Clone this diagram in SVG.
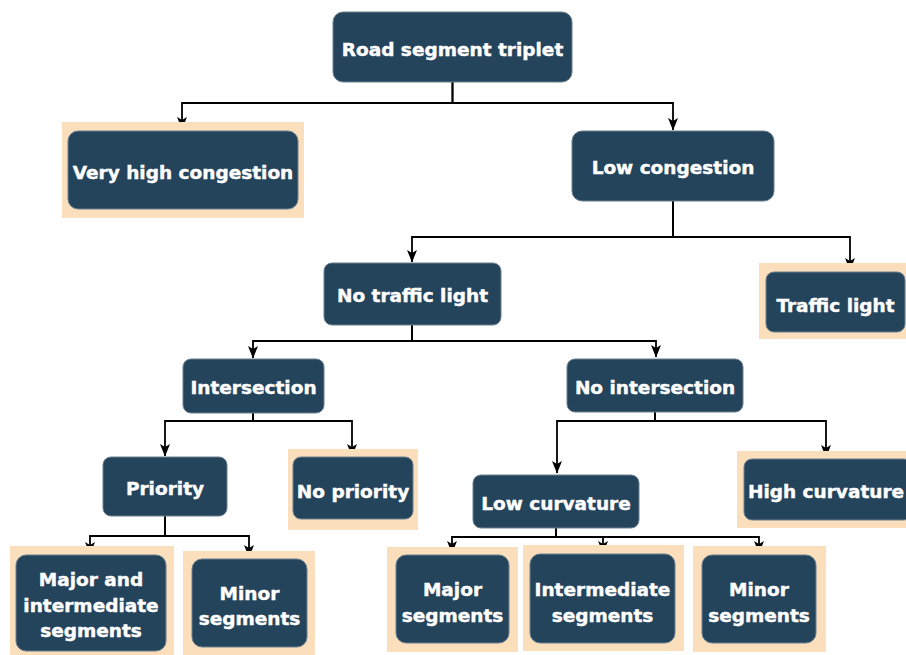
<svg xmlns="http://www.w3.org/2000/svg" width="906" height="655" viewBox="0 0 906 655">
<defs>
<style>
.bg{fill:#FBDFBD;}
.box{fill:#24445C;stroke:#6B7F8F;stroke-width:1;}
.t{fill:#FFFFFF;stroke:#FFFFFF;stroke-width:0.45;font-family:"DejaVu Sans",Verdana,sans-serif;font-weight:bold;font-size:18.5px;text-anchor:middle;}
.c{fill:none;stroke:#000;stroke-width:1.8;marker-end:url(#arr);}
</style>
<marker id="arr" markerUnits="userSpaceOnUse" markerWidth="13" markerHeight="11" viewBox="0 0 13 11" refX="12" refY="5.5" orient="auto">
<path d="M0,0.5 L12.5,5.5 L0,10.5 L3,5.5 z" fill="#000"/>
</marker>
</defs>
<rect width="906" height="655" fill="#FFFFFF"/>
<g id="connectors">
<path class="c" d="M452.5 82V103H182V129"/>
<path class="c" d="M452.5 82V103H673V130"/>
<path class="c" d="M673 201V237H412V262"/>
<path class="c" d="M673 201V237H850V270"/>
<path class="c" d="M412 325V341H253V358"/>
<path class="c" d="M412 325V341H656V357"/>
<path class="c" d="M253 413V421H165V456"/>
<path class="c" d="M253 413V421H352V456"/>
<path class="c" d="M655 412V421H557V473"/>
<path class="c" d="M655 412V421H826V457"/>
<path class="c" d="M165 516V536H90V554"/>
<path class="c" d="M165 516V536H249V557"/>
<path class="c" d="M556 528V537H452V553"/>
<path class="c" d="M556 528V537H603V553"/>
<path class="c" d="M556 528V537H759V553"/>
</g>
<g id="n-root">
<rect class="box" x="333" y="12" width="239" height="70" rx="10"/>
<text class="t" x="452.5" y="56">Road segment triplet</text>
</g>
<g id="n-veryhigh">
<rect class="bg" x="62" y="122" width="242" height="96"/>
<rect class="box" x="68" y="131" width="230" height="78" rx="10"/>
<text class="t" x="183" y="179">Very high congestion</text>
</g>
<g id="n-lowcong">
<rect class="box" x="572" y="131" width="202" height="70" rx="10"/>
<text class="t" x="673" y="174">Low congestion</text>
</g>
<g id="n-notraffic">
<rect class="box" x="324" y="263" width="177" height="62" rx="8"/>
<text class="t" x="412.5" y="302">No traffic light</text>
</g>
<g id="n-traffic">
<rect class="bg" x="759" y="263" width="147" height="76"/>
<rect class="box" x="766" y="272" width="139" height="60" rx="8"/>
<text class="t" x="835.5" y="312">Traffic light</text>
</g>
<g id="n-intersection">
<rect class="box" x="183" y="359" width="141" height="54" rx="8"/>
<text class="t" x="253.5" y="394">Intersection</text>
</g>
<g id="n-nointersection">
<rect class="box" x="567" y="359" width="176" height="53" rx="8"/>
<text class="t" x="655" y="394">No intersection</text>
</g>
<g id="n-priority">
<rect class="box" x="103" y="457" width="124" height="59" rx="8"/>
<text class="t" x="165" y="495">Priority</text>
</g>
<g id="n-nopriority">
<rect class="bg" x="288" y="449" width="130" height="81"/>
<rect class="box" x="293" y="457" width="120" height="62" rx="8"/>
<text class="t" x="353" y="498">No priority</text>
</g>
<g id="n-lowcurv">
<rect class="box" x="473" y="475" width="166" height="53" rx="8"/>
<text class="t" x="556" y="510">Low curvature</text>
</g>
<g id="n-highcurv">
<rect class="bg" x="737" y="451" width="175" height="77"/>
<rect class="box" x="744" y="459" width="168" height="61" rx="8"/>
<text class="t" x="826" y="498">High curvature</text>
</g>
<g id="n-majint">
<rect class="bg" x="10" y="546" width="164" height="115"/>
<rect class="box" x="16" y="555" width="150" height="96" rx="10"/>
<text class="t" x="91" y="586">Major and</text>
<text class="t" x="91" y="612">intermediate</text>
<text class="t" x="91" y="637">segments</text>
</g>
<g id="n-minor1">
<rect class="bg" x="183" y="551" width="132" height="110"/>
<rect class="box" x="192" y="559" width="115" height="88" rx="10"/>
<text class="t" x="249.5" y="600">Minor</text>
<text class="t" x="249.5" y="625">segments</text>
</g>
<g id="n-majorseg">
<rect class="bg" x="387" y="547" width="131" height="105"/>
<rect class="box" x="396" y="555" width="113" height="88" rx="10"/>
<text class="t" x="452.5" y="596">Major</text>
<text class="t" x="452.5" y="622">segments</text>
</g>
<g id="n-interseg">
<rect class="bg" x="523" y="545" width="161" height="106"/>
<rect class="box" x="530" y="554" width="145" height="89" rx="10"/>
<text class="t" x="602.5" y="596">Intermediate</text>
<text class="t" x="602.5" y="622">segments</text>
</g>
<g id="n-minor2">
<rect class="bg" x="693" y="546" width="133" height="106"/>
<rect class="box" x="702" y="555" width="114" height="88" rx="10"/>
<text class="t" x="759" y="596">Minor</text>
<text class="t" x="759" y="622">segments</text>
</g>
</svg>
